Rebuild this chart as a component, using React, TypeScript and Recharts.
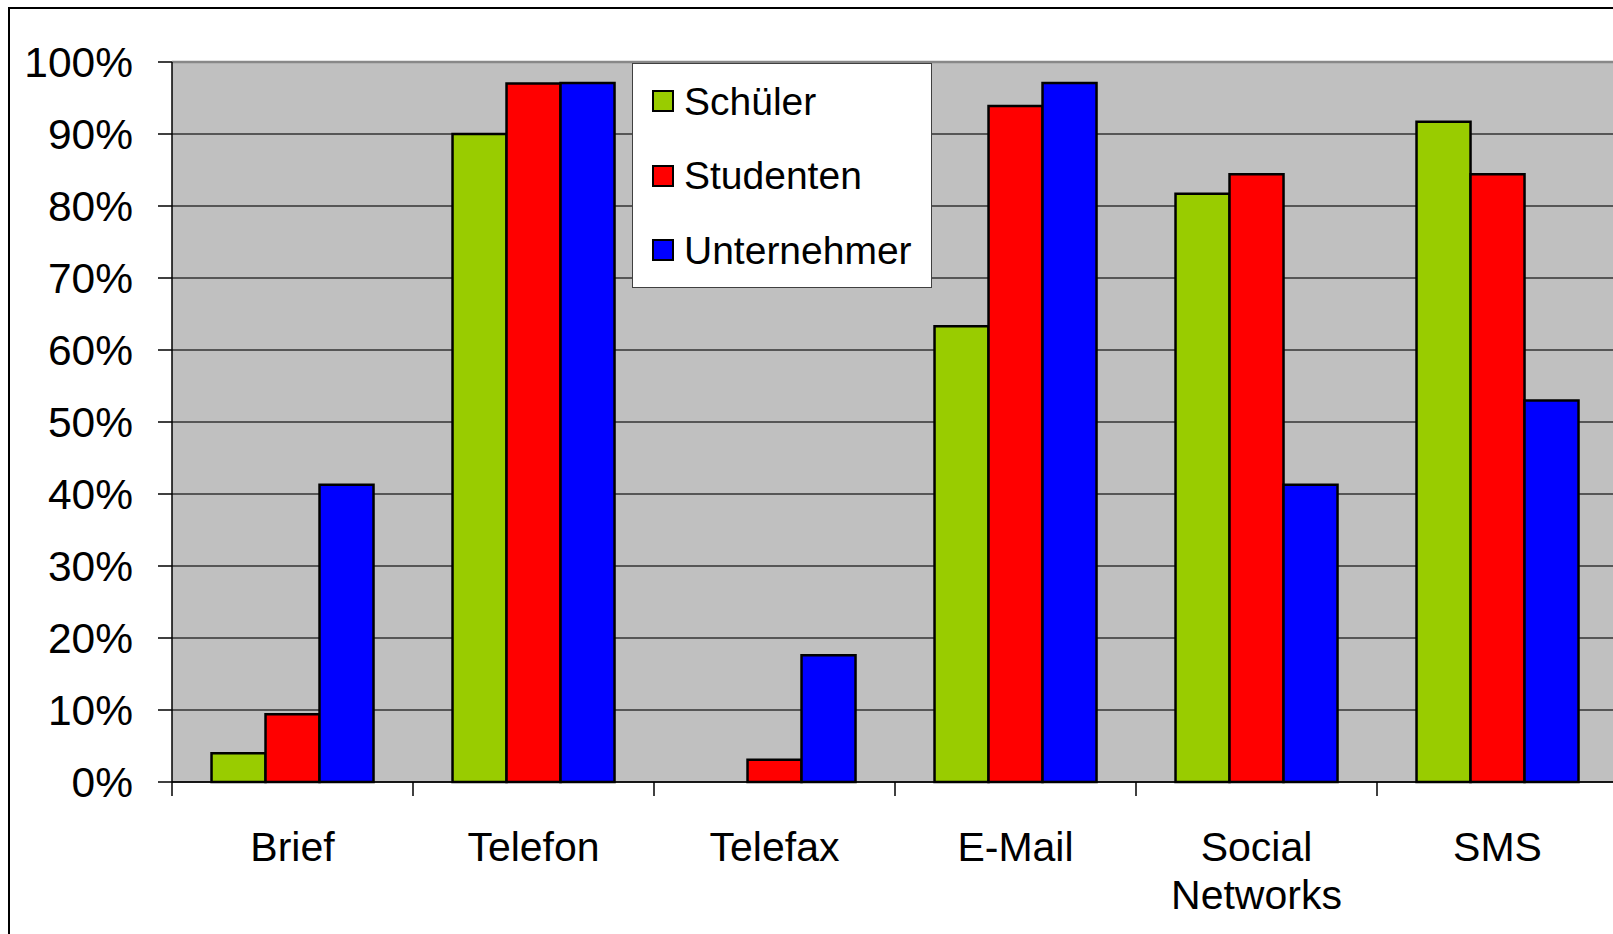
import React from "react";
import {
  BarChart,
  Bar,
  XAxis,
  YAxis,
  CartesianGrid,
  ReferenceLine,
  Legend,
} from "recharts";

const categories = ["Brief", "Telefon", "Telefax", "E-Mail", "Social Networks", "SMS"];
const schueler = [4, 90, 0, 63.3, 81.7, 91.7];
const studenten = [9.4, 97, 3.1, 93.9, 84.4, 84.4];
const unternehmer = [41.3, 97.1, 17.6, 97.1, 41.3, 53];
const yTicks = [0, 10, 20, 30, 40, 50, 60, 70, 80, 90, 100];

const series = [
  { key: "schueler", name: "Schüler", color: "#99cc00" },
  { key: "studenten", name: "Studenten", color: "#ff0000" },
  { key: "unternehmer", name: "Unternehmer", color: "#0000ff" },
];

const data = categories.map((c, i) => ({
  category: c,
  schueler: schueler[i],
  studenten: studenten[i],
  unternehmer: unternehmer[i],
}));

const FONT = '"Liberation Sans", Arial, sans-serif';
const TICK_LEN = 14;

// label in the middle of the band, tick marks on the band edges (Excel style)
function CategoryTick(props: any) {
  const { x, y, payload, index, visibleTicksCount } = props;
  const lines = String(payload.value).split(" ");
  const half = payload.offset || 0;
  const axisY = y - 36 - TICK_LEN;
  const isLast = index === visibleTicksCount - 1;
  return (
    <g>
      <line x1={x - half} x2={x - half} y1={axisY} y2={axisY + TICK_LEN} stroke="#000" strokeWidth={1.5} />
      {isLast && (
        <line x1={x + half} x2={x + half} y1={axisY} y2={axisY + TICK_LEN} stroke="#000" strokeWidth={1.5} />
      )}
      <text x={x} y={y} textAnchor="middle" fill="#000" fontSize={41} fontFamily={FONT}>
        {lines.map((l, i) => (
          <tspan key={i} x={x} dy={i === 0 ? "0.71em" : 48}>
            {l}
          </tspan>
        ))}
      </text>
    </g>
  );
}

function LegendBox() {
  return (
    <div
      style={{
        width: 300,
        height: 225,
        boxSizing: "border-box",
        background: "#fff",
        border: "1px solid #404040",
        fontFamily: FONT,
        fontSize: 39,
        color: "#000",
      }}
    >
      {series.map((s) => (
        <div key={s.key} style={{ height: 74.5, display: "flex", alignItems: "center", paddingLeft: 19 }}>
          <span
            style={{
              width: 22,
              height: 22,
              boxSizing: "border-box",
              background: s.color,
              border: "2px solid #000",
              marginRight: 10,
              flex: "none",
            }}
          />
          <span style={{ lineHeight: 1 }}>{s.name}</span>
        </div>
      ))}
    </div>
  );
}

export default function App() {
  return (
    <div
      style={{
        position: "fixed",
        left: 8,
        top: 7,
        width: 1605,
        height: 927,
        overflow: "hidden",
        boxSizing: "border-box",
        borderLeft: "2px solid #000",
        borderTop: "2px solid #000",
        background: "#fff",
      }}
    >
      <BarChart
        width={1620}
        height={925}
        data={data}
        margin={{ top: 53, right: 12, bottom: 52, left: 0 }}
        barCategoryGap="16.4%"
        barGap={0}
      >
        <CartesianGrid
          vertical={false}
          fill="#c0c0c0"
          fillOpacity={1}
          stroke="#333"
          strokeWidth={1.5}
        />
        <XAxis
          dataKey="category"
          interval={0}
          height={100}
          tickSize={TICK_LEN}
          tickMargin={36}
          tickLine={false}
          axisLine={{ stroke: "#000", strokeWidth: 1.5 }}
          tick={<CategoryTick />}
        />
        <YAxis
          domain={[0, 100]}
          ticks={yTicks}
          interval={0}
          width={162}
          tickSize={TICK_LEN}
          tickMargin={25}
          tickFormatter={(v: number) => `${v}%`}
          tick={{ fill: "#000", fontSize: 42.5, fontFamily: FONT }}
          tickLine={{ stroke: "#000", strokeWidth: 1.5 }}
          axisLine={{ stroke: "#000", strokeWidth: 1.5 }}
        />
        <ReferenceLine y={100} stroke="#888" strokeWidth={2.5} />
        {series.map((s) => (
          <Bar
            key={s.key}
            dataKey={s.key}
            name={s.name}
            fill={s.color}
            stroke="#000"
            strokeWidth={2.5}
            isAnimationActive={false}
          />
        ))}
        <Legend
          layout="vertical"
          align="center"
          verticalAlign="middle"
          content={<LegendBox />}
          wrapperStyle={{ position: "absolute", left: 622, top: 54, width: 300, height: 225 }}
        />
      </BarChart>
    </div>
  );
}
